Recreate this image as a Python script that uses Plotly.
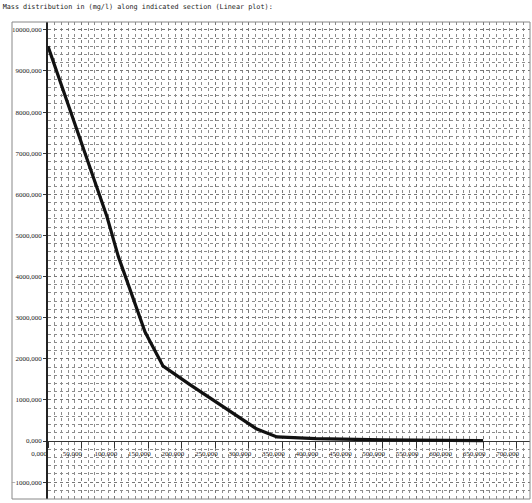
import plotly.graph_objects as go

# Data (x in m, y in mg/l)
x_vals = [0, 43, 88, 105, 127, 145, 172, 212, 312, 342, 400, 500, 650]
y_vals = [9600, 7575, 5460, 4490, 3450, 2650, 1820, 1370, 290, 100, 60, 30, 10]

x_ticks = list(range(0, 701, 50))
y_ticks = list(range(-1000, 10001, 1000))
x_minor = list(range(0, 721, 10))
y_minor = list(range(-1400, 10201, 200))

X_RANGE = [0, 720]
Y_RANGE = [-1410, 10190]

W, H = 532, 503
ML, MR, MT, MB = 48, 2, 22, 4
BORDER_LEFT_PX = 12

fig = go.Figure()
fig.add_trace(go.Scatter(
    x=x_vals, y=y_vals, mode="lines",
    line=dict(color="#111111", width=3.2),
    showlegend=False, hoverinfo="skip",
))

grid_col = "#8c8c8c"
tick_font = dict(family="Liberation Serif", size=7, color="#222222")

x_pos = (0 - Y_RANGE[0]) / (Y_RANGE[1] - Y_RANGE[0])
plot_w = W - ML - MR
border_x0 = -(ML - BORDER_LEFT_PX) / plot_w

fig.update_layout(
    width=W, height=H,
    margin=dict(l=ML, r=MR, t=MT, b=MB),
    paper_bgcolor="white", plot_bgcolor="white",
    separators=",.",
    title=dict(
        text="Mass distribution in (mg/l) along indicated section (Linear plot):",
        x=0.005, xanchor="left", y=0.992, yanchor="top",
        font=dict(family="DejaVu Sans Mono", size=6.8, color="#222222"),
    ),
    xaxis=dict(
        range=X_RANGE, anchor="free", position=x_pos,
        tickmode="array", tickvals=x_ticks, tickformat=".3f",
        showline=False, zeroline=False,
        ticks="outside", ticklen=6, tickcolor="#333333", tickwidth=1,
        ticklabelshift=-9,
        tickfont=tick_font,
        showgrid=True, gridcolor="#777777", griddash="dot", gridwidth=1,
        minor=dict(tickmode="array", tickvals=x_minor, showgrid=True,
                   gridcolor=grid_col, griddash="dot", gridwidth=1),
    ),
    yaxis=dict(
        range=Y_RANGE,
        tickmode="array", tickvals=y_ticks, tickformat=".3f",
        showline=True, linecolor="#222222", linewidth=1.5,
        zeroline=True, zerolinecolor="#333333", zerolinewidth=1.2,
        ticks="outside", ticklen=3, tickcolor="#333333",
        tickfont=tick_font,
        showgrid=True, gridcolor="#777777", griddash="dot", gridwidth=1,
        minor=dict(tickmode="array", tickvals=y_minor, showgrid=True,
                   gridcolor=grid_col, griddash="dot", gridwidth=1),
    ),
    shapes=[
        # plot border (extends left past the vertical axis, around the labels)
        dict(type="rect", xref="paper", yref="paper", x0=border_x0, x1=1, y0=0, y1=1,
             line=dict(color="#888888", width=1), layer="above"),
    ],
)

fig.write_html("out.html")
